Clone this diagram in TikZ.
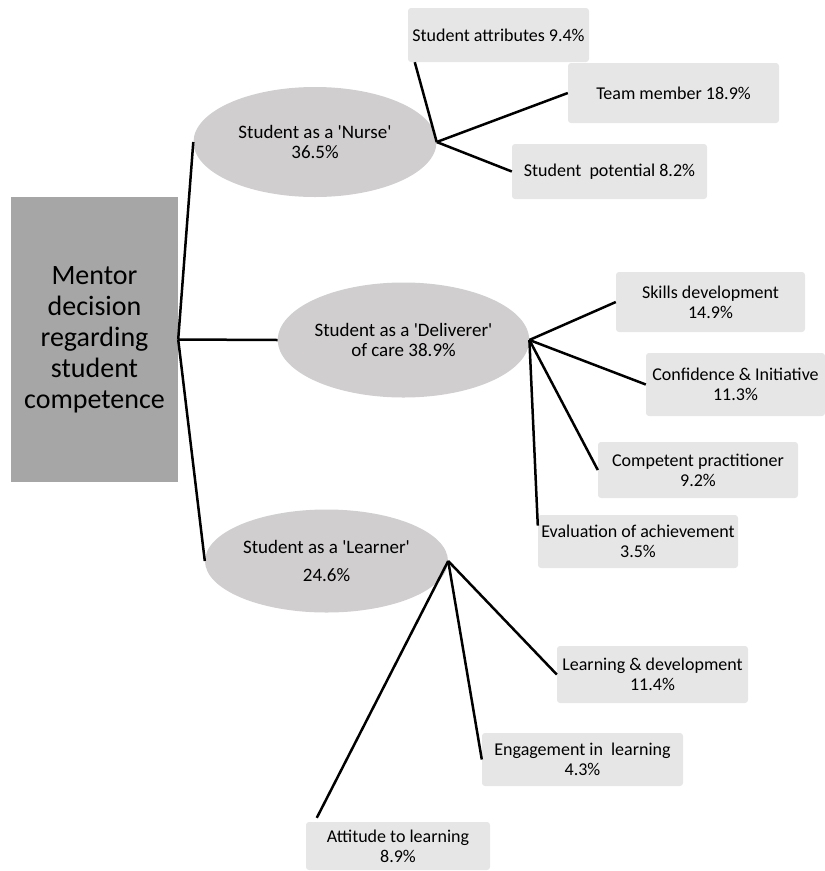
\documentclass[tikz,border=0pt]{standalone}
\usepackage{fontspec}
\setmainfont{Carlito}[Ligatures=TeXOff]
\usetikzlibrary{shapes.geometric,positioning}

\definecolor{topicgray}{HTML}{A6A6A6}
\definecolor{themegray}{HTML}{D0CECE}
\definecolor{subgray}{HTML}{E7E6E6}

\begin{document}
\begin{tikzpicture}[
    x=1pt, y=-1pt,
    topic/.style={rectangle, fill=topicgray, minimum width=167pt, minimum height=285pt, inner sep=0pt, align=center, font=\fontsize{28}{31}\selectfont},
    theme/.style={ellipse, fill=themegray, minimum width=243pt, minimum height=#1, inner sep=0pt, align=center, font=\fontsize{19}{20}\selectfont},
    subbox/.style 2 args={rectangle, fill=subgray, rounded corners=3pt, minimum width=#1, minimum height=#2, inner sep=0pt, align=center, font=\fontsize{18}{20}\selectfont},
    link/.style={line width=2.5pt, black},
]
\useasboundingbox (0,0) rectangle (825,871);

% Main decision box
\node[topic] (main) at (94.5,339.5) {Mentor\\decision\\regarding\\student\\competence};

% Themes
\node[theme=110pt] (nurse) at (315,142) {Student as a 'Nurse'\\36.5\%};
\node[theme=115pt] (deliver) at (403.5,340) {Student as a 'Deliverer'\\of care 38.9\%};
\node[theme=103pt] (learner) at (326.5,561) {Student as a 'Learner'\\[8pt]24.6\%};

% Sub-themes of 'Nurse'
\node[subbox={181pt}{54pt}] (attrib) at (498.5,35) {Student attributes 9.4\%};
\node[subbox={211pt}{60pt}] (team) at (673.5,93) {Team member 18.9\%};
\node[subbox={195pt}{55pt}] (potential) at (609.5,171.5) {Student\ \ potential 8.2\%};

% Sub-themes of 'Deliverer'
\node[subbox={189pt}{60pt}] (skills) at (710.5,302) {Skills development\\14.9\%};
\node[subbox={179pt}{63pt}] (confid) at (735.5,384.5) {Confidence \& Initiative\\11.3\%};
\node[subbox={200pt}{56pt}] (compet) at (698,470) {Competent practitioner\\9.2\%};
\node[subbox={200pt}{53pt}] (evalu) at (638,541.5) {Evaluation of achievement\\3.5\%};

% Sub-themes of 'Learner'
\node[subbox={191pt}{57pt}] (learndev) at (652.5,674.5) {Learning \& development\\11.4\%};
\node[subbox={201pt}{53pt}] (engage) at (582.5,759.5) {Engagement in\ \ learning\\4.3\%};
\node[subbox={184pt}{48pt}] (attitude) at (398,846) {Attitude to learning\\8.9\%};

% Main to themes
\draw[link] (main.east) -- (nurse.west);
\draw[link] (main.east) -- (deliver.west);
\draw[link] (main.east) -- (learner.west);

% Themes to sub-themes
\draw[link] (nurse.east) -- (attrib.198);
\draw[link] (nurse.east) -- (team.west);
\draw[link] (nurse.east) -- (potential.west);

\draw[link] (deliver.east) -- (skills.west);
\draw[link] (deliver.east) -- (confid.west);
\draw[link] (deliver.east) -- (compet.west);
\draw[link] (deliver.east) -- (evalu.171);

\draw[link] (learner.east) -- (learndev.west);
\draw[link] (learner.east) -- (engage.west);
\draw[link] (learner.east) -- ([shift={(11,-4)}]attitude.north west);

\end{tikzpicture}
\end{document}
